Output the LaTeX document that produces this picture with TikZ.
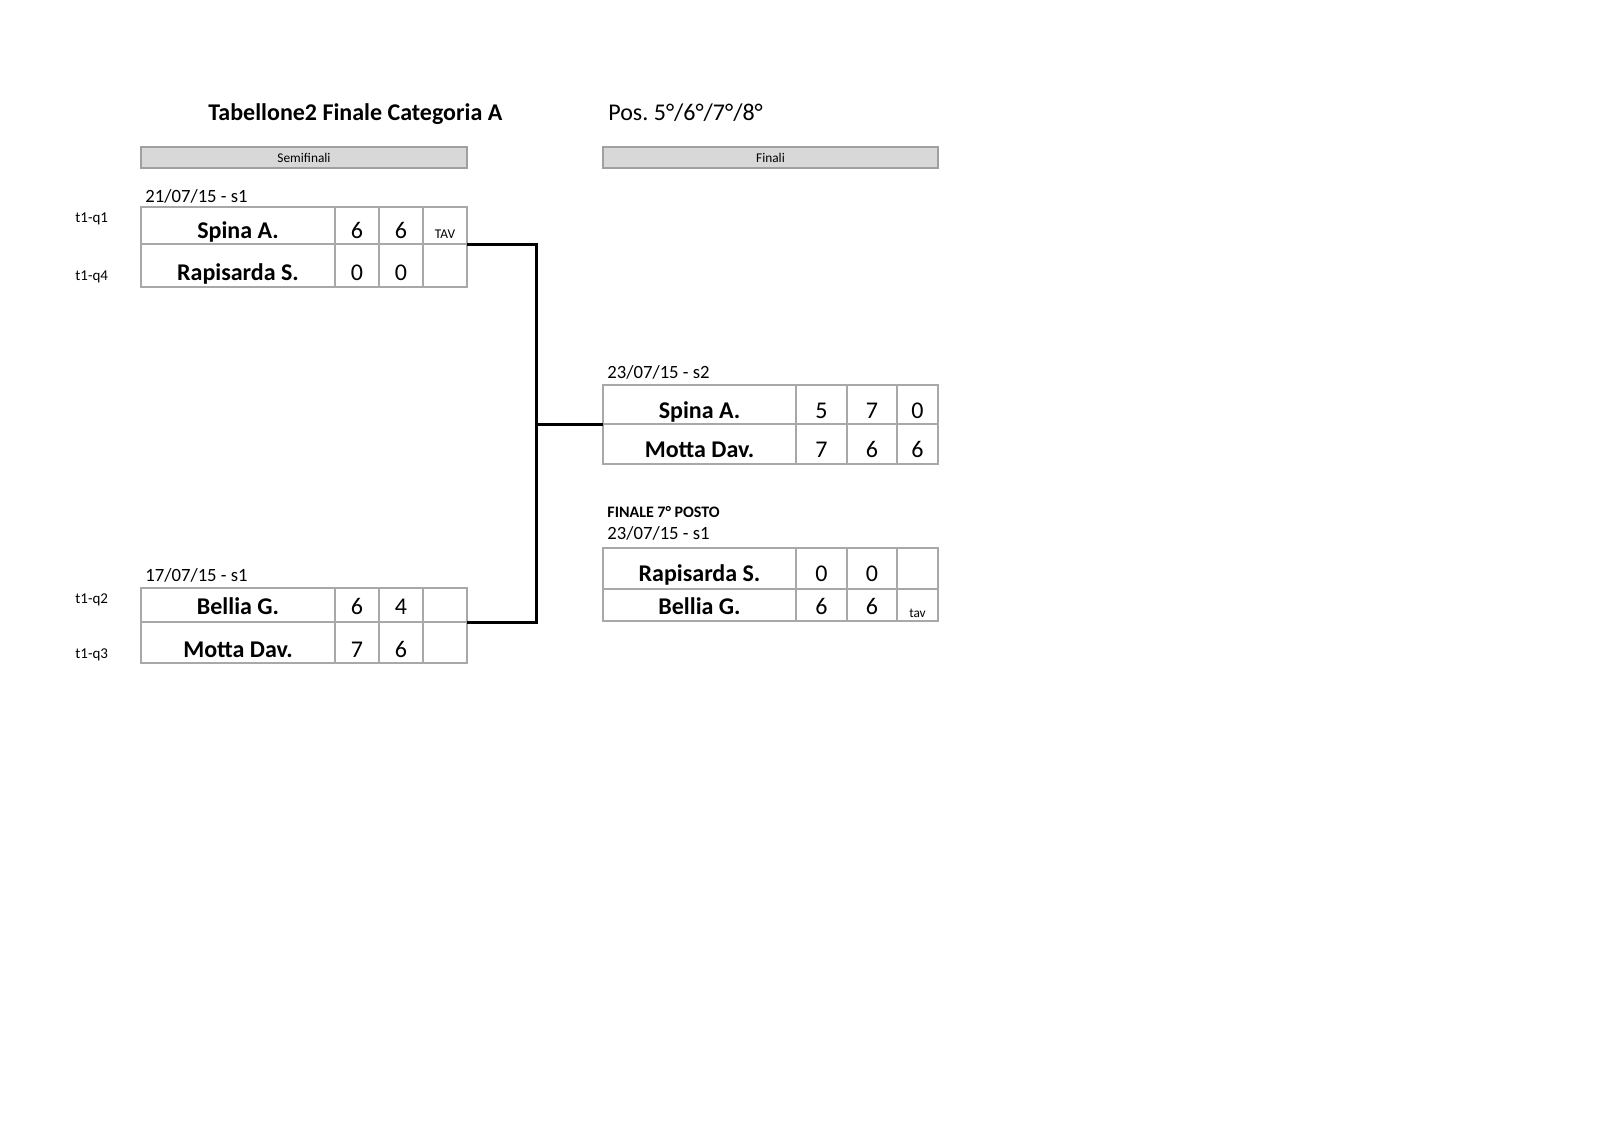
\documentclass[tikz,border=0pt]{standalone}
\usepackage{fontspec}
\setmainfont{Carlito}
\frenchspacing
\definecolor{cellgray}{HTML}{A8A8A8}
\definecolor{barfill}{HTML}{D8D8D8}
\definecolor{bardraw}{HTML}{A0A0A0}
\newcommand\cellbox[5]{\node[cell, minimum width=#4*0.5pt, minimum height=#5*0.5pt] (#1) at (#2,#3) {};}
\newcommand\lrow[3]{%
 \cellbox{#1n}{141}{#2}{194}{#3}
 \cellbox{#1a}{335}{#2}{44}{#3}
 \cellbox{#1b}{379}{#2}{44}{#3}
 \cellbox{#1c}{423}{#2}{44}{#3}}
\newcommand\rrow[3]{%
 \cellbox{#1n}{603}{#2}{193}{#3}
 \cellbox{#1a}{796}{#2}{51}{#3}
 \cellbox{#1b}{847}{#2}{50}{#3}
 \cellbox{#1c}{897}{#2}{41}{#3}}
\newcommand\rowtext[6]{%
 \node[namet] (#1nt) at (#1n.center |- 0,#2) {#3};
 \node[scoret] (#1at) at (#1a.center |- 0,#2) {#4};
 \node[scoret] (#1bt) at (#1b.center |- 0,#2) {#5};
 \node[scoret] (#1ct) at (#1c.center |- 0,#2) {#6};}
\begin{document}
\begin{tikzpicture}[x=0.5pt,y=-0.5pt,
  cell/.style={draw=cellgray, line width=1pt, inner sep=0pt, outer sep=0pt, anchor=north west, rectangle},
  namet/.style={font=\bfseries\fontsize{12}{14}\selectfont, anchor=base, inner sep=0pt},
  scoret/.style={font=\fontsize{12}{14}\selectfont, anchor=base, inner sep=0pt},
  datet/.style={font=\fontsize{9.35}{11}\selectfont, anchor=base west, inner sep=0pt},
  qlab/.style={font=\fontsize{7.5}{9}\selectfont, anchor=base west, inner sep=0pt},
  tavt/.style={font=\fontsize{6.67}{8}\selectfont, anchor=base, inner sep=0pt},
  bar/.style={draw=bardraw, fill=barfill, line width=1pt, inner sep=0pt, outer sep=0pt, anchor=north west, rectangle, font=\fontsize{6.67}{8}\selectfont},
  conn/.style={draw=black, line width=1.5pt}]
\useasboundingbox (0,0) rectangle (1600,1131);

% headings
\node[anchor=base west, inner sep=0pt, font=\bfseries\fontsize{12}{14}\selectfont] (title) at (208,120) {Tabellone2 Finale Categoria A};
\node[anchor=base west, inner sep=0pt, font=\fontsize{12}{14}\selectfont] (pos) at (608,120) {Pos. 5°/6°/7°/8°};
\node[bar, minimum width=163pt, minimum height=10.5pt] (semi) at (141,147) {Semifinali};
\node[bar, minimum width=167.5pt, minimum height=10.5pt] (fin) at (603,147) {Finali};

% semifinal 1
\node[datet] (d1) at (145,202) {21/07/15 - s1};
\lrow{ta1}{207}{37}
\lrow{ta2}{244}{43}
\rowtext{ta1}{238}{Spina A.}{6}{6}{}
\rowtext{ta2}{280}{Rapisarda S.}{0}{0}{}
\node[tavt] (tav1) at (ta1c.center |- 0,238) {TAV};
\node[qlab] (q1) at (75,222) {t1-q1};
\node[qlab] (q4) at (75,280) {t1-q4};

% semifinal 2
\node[datet] (d2) at (145,581) {17/07/15 - s1};
\lrow{tb1}{588}{34}
\lrow{tb2}{622}{41}
\rowtext{tb1}{614}{Bellia G.}{6}{4}{}
\rowtext{tb2}{657}{Motta Dav.}{7}{6}{}
\node[qlab] (q2) at (75,603) {t1-q2};
\node[qlab] (q3) at (75,658) {t1-q3};

% final
\node[datet] (d3) at (607,378) {23/07/15 - s2};
\rrow{fa1}{385}{39}
\rrow{fa2}{424}{40}
\rowtext{fa1}{418}{Spina A.}{5}{7}{0}
\rowtext{fa2}{457}{Motta Dav.}{7}{6}{6}

% 7th place
\node[anchor=base west, inner sep=0pt, font=\bfseries\fontsize{8}{10}\selectfont] (f7) at (607,517) {FINALE 7° POSTO};
\node[datet] (d4) at (607,539) {23/07/15 - s1};
\rrow{fb1}{548}{41}
\rrow{fb2}{589}{32}
\rowtext{fb1}{581}{Rapisarda S.}{0}{0}{}
\rowtext{fb2}{614}{Bellia G.}{6}{6}{}
\node[tavt] (tav2) at (fb2c.center |- 0,617) {tav};

% connectors
\coordinate (j) at (536,424);
\draw[conn] (ta1c.south east) -| (j);
\draw[conn] (tb1c.south east) -| (j);
\draw[conn] (j) -- (fa1n.south west);
\end{tikzpicture}
\end{document}
